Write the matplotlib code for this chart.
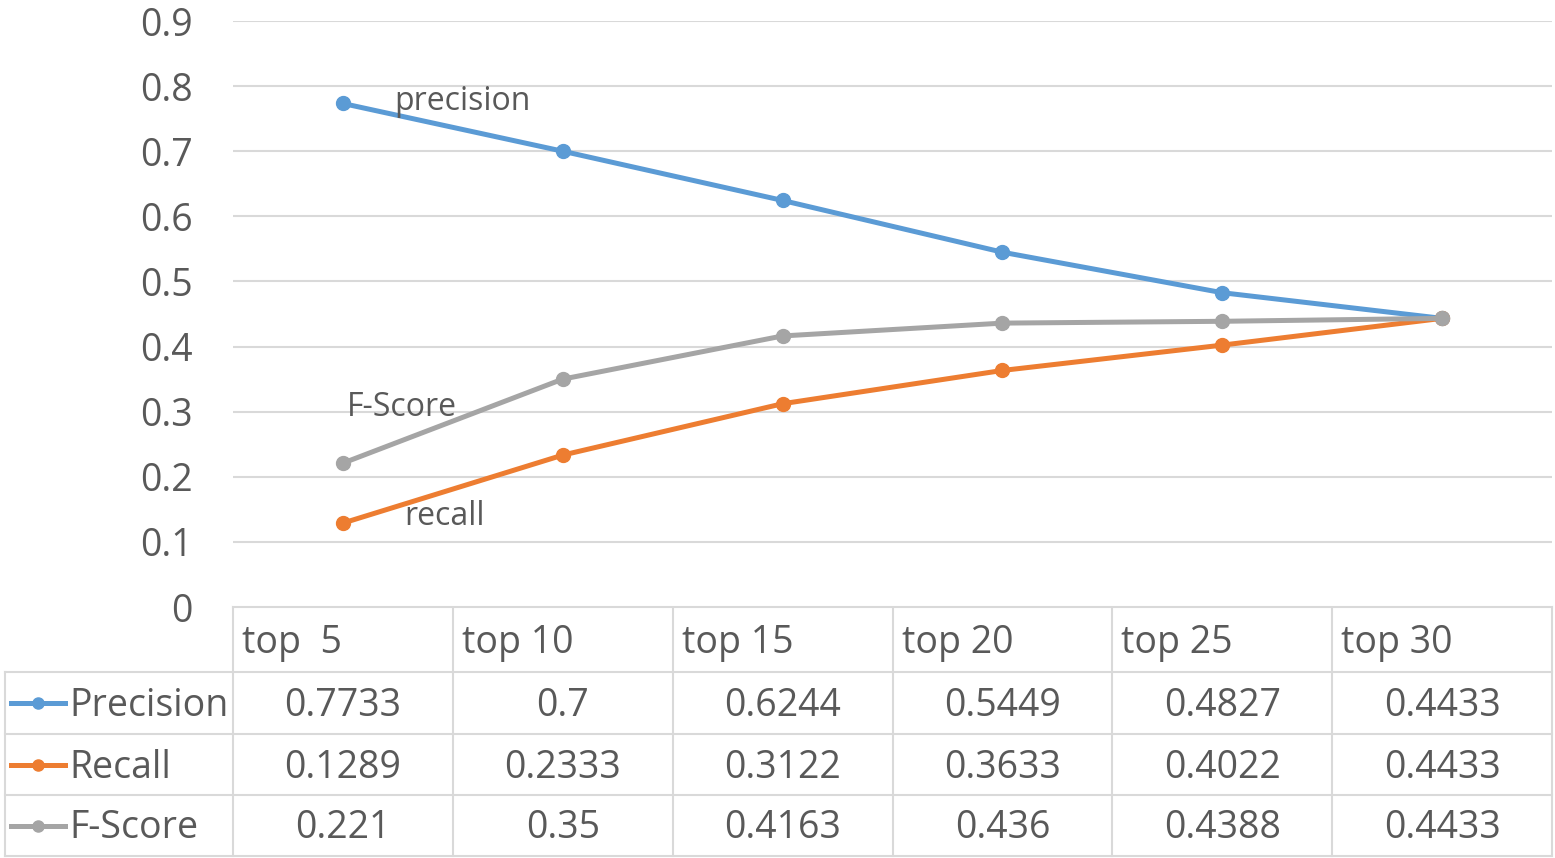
import matplotlib.pyplot as plt
from matplotlib.lines import Line2D

plt.rcParams['font.family'] = ['Open Sans', 'DejaVu Sans']

# dane
categories = ['top  5', 'top 10', 'top 15', 'top 20', 'top 25', 'top 30']
precision = [0.7733, 0.7, 0.6244, 0.5449, 0.4827, 0.4433]
recall = [0.1289, 0.2333, 0.3122, 0.3633, 0.4022, 0.4433]
fscore = [0.221, 0.35, 0.4163, 0.436, 0.4388, 0.4433]
series_names = ['Precision', 'Recall', 'F-Score']
yticks = [0, 0.1, 0.2, 0.3, 0.4, 0.5, 0.6, 0.7, 0.8, 0.9]

colors = ['#5B9BD5', '#ED7D31', '#A5A5A5']
text_color = '#595959'
grid_color = '#D9D9D9'
fs = 27

W, H = 1555, 858
fig = plt.figure(figsize=(W / 100, H / 100), dpi=100)

# obszar wykresu w pikselach
left, right, top, bottom = 233, 1552, 21, 607
ax = fig.add_axes([left / W, 1 - bottom / H, (right - left) / W, (bottom - top) / H])
x = list(range(len(categories)))
series = [precision, recall, fscore]
for vals, c in zip(series, colors):
    ax.plot(x, vals, color=c, lw=3.6, marker='o', ms=10, solid_capstyle='round', zorder=3)
ax.set_xlim(-0.5, len(categories) - 0.5)
ax.set_ylim(0, 0.9)
ax.set_yticks(yticks)
ax.set_yticklabels([f'{t:g}' for t in yticks], fontsize=fs, color=text_color)
ax.tick_params(axis='y', length=0, pad=29)
ax.set_xticks([])
ax.grid(axis='y', color=grid_color, lw=1.5)
for s in ax.spines.values():
    s.set_visible(False)

# podpisy serii
ax.text(x[0] + 0.235, precision[0] + 0.003, 'precision', fontsize=23, color=text_color, va='center')
ax.text(x[0] + 0.02, fscore[0] + 0.085, 'F-Score', fontsize=23, color=text_color, va='center')
ax.text(x[0] + 0.28, recall[0] + 0.01, 'recall', fontsize=23, color=text_color, va='center')

# tabela danych pod wykresem
tab = fig.add_axes([0, 0, 1, 1], zorder=-1)
tab.set_xlim(0, W)
tab.set_ylim(H, 0)
tab.axis('off')
col_w = (right - left) / len(categories)
row_edges = [607, 672, 734, 795, 856]
lw = 1.5

# poziome linie
tab.plot([left, right], [row_edges[0]] * 2, color=grid_color, lw=lw)
for yy in row_edges[1:]:
    tab.plot([5, right], [yy] * 2, color=grid_color, lw=lw)
# pionowe linie
tab.plot([5, 5], [row_edges[1], row_edges[-1]], color=grid_color, lw=lw)
for i in range(len(categories) + 1):
    xx = left + i * col_w
    tab.plot([xx, xx], [row_edges[0], row_edges[-1]], color=grid_color, lw=lw)

for i, cat in enumerate(categories):
    tab.text(left + i * col_w + 9, (row_edges[0] + row_edges[1]) / 2 + 3, cat,
             fontsize=fs, color=text_color, ha='left', va='center')

for r, (name, vals, c) in enumerate(zip(series_names, series, colors)):
    yc = (row_edges[r + 1] + row_edges[r + 2]) / 2 + 3
    tab.add_line(Line2D([11, 65], [yc - 3, yc - 3], color=c, lw=3.6))
    tab.plot([38], [yc - 3], 'o', color=c, ms=8)
    tab.text(69, yc, name, fontsize=fs, color=text_color, ha='left', va='center')
    for i, v in enumerate(vals):
        tab.text(left + (i + 0.5) * col_w, yc, f'{v:g}', fontsize=fs,
                 color=text_color, ha='center', va='center')

fig.savefig('out.png', dpi=100)
